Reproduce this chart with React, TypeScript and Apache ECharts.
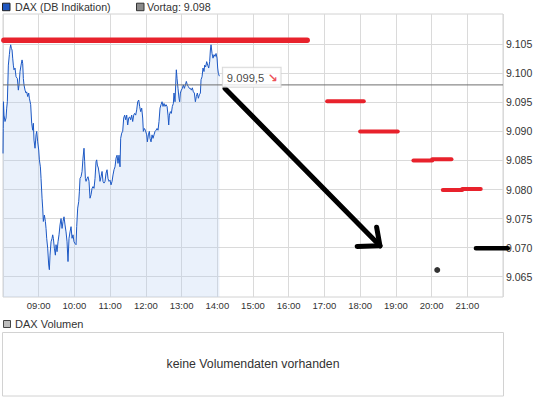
import React, { useEffect, useRef } from "react";
import * as echarts from "echarts";

// ---- data (time in minutes since midnight, price in index points) ----
const priceTimes = [
  480.0, 480.4, 480.8, 481.7, 483.4, 485.1, 486.2, 487.3, 489.0, 490.7, 491.8, 492.9, 494.0, 495.2, 496.3, 497.4,
  498.5, 500.2, 501.9, 504.1, 505.8, 506.9, 508.6, 510.3, 512.0, 513.1, 514.2, 515.3, 517.0, 518.7, 519.8, 521.5,
  523.2, 524.3, 526.5, 528.2, 529.9, 531.0, 532.1, 533.8, 535.5, 536.6, 538.3, 540.0, 541.1, 542.8, 543.9, 545.6,
  546.7, 547.8, 549.5, 551.2, 552.3, 553.4, 555.1, 556.8, 557.9, 559.0, 560.7, 562.4, 563.5, 564.6, 566.3, 568.0,
  569.1, 570.8, 572.4, 574.1, 575.8, 577.5, 579.2, 580.8, 582.5, 584.2, 585.9, 587.6, 589.2, 590.9, 592.6, 594.3,
  596.0, 597.6, 599.3, 601.0, 602.7, 603.8, 605.5, 607.2, 608.3, 609.4, 611.1, 612.8, 614.4, 616.1, 617.2, 618.4,
  619.5, 621.2, 622.8, 624.5, 626.2, 627.9, 629.6, 631.2, 632.9, 634.6, 636.3, 637.4, 638.5, 640.2, 641.9, 643.0,
  644.7, 646.4, 648.0, 649.7, 651.4, 653.1, 654.8, 656.4, 658.1, 659.8, 661.5, 663.2, 664.8, 666.5, 668.2, 669.9,
  671.6, 673.2, 674.9, 676.6, 677.7, 679.4, 681.1, 682.8, 684.4, 686.1, 687.8, 689.5, 691.2, 692.8, 694.5, 696.2,
  697.9, 699.6, 701.2, 702.9, 704.6, 706.3, 708.0, 709.6, 711.3, 713.0, 714.7, 715.8, 717.5, 719.2, 721.4, 722.5,
  724.2, 725.9, 727.0, 728.7, 730.4, 732.0, 733.7, 735.4, 737.1, 738.8, 740.4, 742.1, 743.8, 745.5, 747.2, 748.8,
  750.5, 752.2, 753.9, 755.6, 757.2, 758.4, 759.5, 761.2, 762.8, 764.5, 766.2, 767.3, 769.0, 770.1, 771.2, 772.4,
  774.0, 775.7, 776.8, 778.0, 779.6, 781.3, 783.0, 784.7, 786.4, 788.0, 789.7, 791.4, 793.1, 794.8, 796.4, 798.1,
  799.8, 801.5, 803.2, 804.8, 806.5, 808.2, 809.9, 811.6, 812.7, 814.4, 816.0, 817.7, 818.8, 820.5, 822.2, 823.9,
  825.6, 827.2, 828.4, 829.5, 831.2, 832.8, 834.5, 836.2, 837.9, 839.6, 840.7, 841.8, 843.5,
];
const priceValues = [
  9086.2, 9090.5, 9095.1, 9092.8, 9091.7, 9092.3, 9094.0, 9095.1, 9101.4, 9103.2, 9104.3, 9104.9, 9104.3, 9104.0, 9102.6, 9101.4,
  9100.6, 9100.9, 9099.4, 9099.1, 9097.1, 9098.0, 9100.3, 9101.4, 9102.3, 9101.7, 9099.1, 9098.0, 9097.1, 9096.6, 9096.8, 9096.0,
  9096.6, 9095.7, 9094.6, 9091.4, 9090.2, 9091.4, 9088.5, 9087.1, 9089.4, 9090.0, 9088.2, 9086.8, 9085.1, 9083.9, 9081.9, 9078.5,
  9076.8, 9074.5, 9075.6, 9074.5, 9073.3, 9071.6, 9069.9, 9067.0, 9066.2, 9068.7, 9071.0, 9071.6, 9072.2, 9071.6, 9069.9, 9068.7,
  9070.5, 9069.3, 9071.0, 9072.2, 9073.9, 9075.0, 9073.3, 9074.5, 9075.3, 9073.9, 9072.7, 9071.0, 9067.6, 9071.6, 9072.7, 9073.6,
  9071.6, 9072.2, 9071.0, 9070.7, 9070.5, 9073.6, 9076.8, 9077.9, 9079.6, 9081.9, 9082.2, 9083.1, 9085.4, 9087.1, 9084.8, 9081.9,
  9081.4, 9081.9, 9082.2, 9081.4, 9078.5, 9079.1, 9080.2, 9080.5, 9080.2, 9081.9, 9084.8, 9085.1, 9084.2, 9083.7, 9082.5, 9081.4,
  9082.2, 9083.1, 9081.4, 9081.1, 9081.4, 9082.8, 9083.4, 9081.9, 9081.4, 9081.6, 9080.8, 9081.4, 9082.5, 9083.4, 9083.9, 9085.4,
  9085.9, 9084.5, 9085.9, 9083.9, 9088.8, 9089.7, 9090.0, 9092.3, 9092.8, 9092.0, 9092.8, 9091.1, 9092.3, 9092.5, 9092.0, 9092.8,
  9091.7, 9092.8, 9093.1, 9092.8, 9093.7, 9095.1, 9095.4, 9094.3, 9093.4, 9094.0, 9092.3, 9090.0, 9090.5, 9090.2, 9089.4, 9088.2,
  9089.4, 9090.0, 9088.8, 9088.2, 9089.4, 9088.8, 9089.4, 9090.0, 9090.2, 9090.5, 9090.2, 9091.7, 9094.0, 9094.6, 9095.1, 9094.3,
  9094.8, 9094.3, 9094.6, 9094.3, 9092.8, 9091.1, 9092.8, 9093.4, 9093.1, 9094.3, 9094.8, 9096.6, 9095.1, 9098.0, 9100.6, 9099.1,
  9097.4, 9095.7, 9095.1, 9096.6, 9097.1, 9097.4, 9098.0, 9097.4, 9098.0, 9098.6, 9098.0, 9097.7, 9097.4, 9097.4, 9097.1, 9097.5,
  9096.8, 9096.6, 9095.1, 9096.0, 9096.6, 9095.7, 9096.3, 9096.6, 9098.9, 9099.4, 9100.9, 9100.3, 9101.4, 9101.1, 9102.0, 9101.4,
  9100.9, 9102.0, 9104.0, 9104.9, 9103.4, 9102.6, 9103.2, 9102.9, 9103.4, 9102.6, 9100.9, 9100.0, 9099.5,
];
const previousClose = 9098;
const xAxisRange = [480, 1320]; // 08:00 - 22:00
const yLabelRange = [9065, 9105];
const yLabelStep = 5;
const yPlotRange = [9061.5, 9110.2];

// hand-drawn annotations: [startTime, endTime, level]
const topRedLine = [481.5, 991, 9105.7];
const redDashes = [
  [1024.6, 1086.1, 9095.2],
  [1080.0, 1143.2, 9090.0],
  [1169.5, 1201.1, 9085.0],
  [1201.1, 1233.4, 9085.2],
  [1218.9, 1251.5, 9079.9],
  [1251.5, 1282.6, 9080.1],
];
const arrowShaft = [
  [853.0, 9097.4],
  [1113.3, 9070.3],
];
const arrowHead = [
  [1075.0, 9070.2],
  [1113.3, 9070.3],
  [1107.7, 9073.5],
];
const blackRightLine = [1274.5, 1328.0, 9069.9];
const blackDot = [1209.5, 9066.15];

const FONT = "'Liberation Sans', Arial, sans-serif";

// plot geometry
const PLOT_LEFT = 3;
const PLOT_TOP = 14;
const PLOT_W = 500;
const PLOT_H = 283;
const OVER_W = 540; // overlay grid, wider so marks can run past the axis

const fmtDE = (v: number, decimals = 0) => {
  const fixed = v.toFixed(decimals);
  const [intPart, dec] = fixed.split(".");
  const withSep = intPart.replace(/\B(?=(\d{3})+(?!\d))/g, ".");
  return dec ? withSep + "," + dec : withSep;
};
const fmtTime = (m: number) =>
  String(Math.floor(m / 60)).padStart(2, "0") + ":" + String(Math.round(m % 60)).padStart(2, "0");

const seg = (name: string, data: number[][], color: string, width: number, extra: any = {}) => ({
  type: "line",
  name,
  data,
  xAxisIndex: 0,
  yAxisIndex: 0,
  showSymbol: false,
  symbol: "none",
  silent: true,
  lineStyle: { color, width, cap: "round", join: "round" },
  ...extra,
});

export default function App() {
  const ref = useRef<HTMLDivElement>(null);
  useEffect(() => {
    if (!ref.current) return;
    const chart = echarts.init(ref.current, undefined, { renderer: "svg" });
    const priceData = priceTimes.map((t, i) => [t, priceValues[i]]);
    const lastIdx = priceData.length - 1;
    const red = "#e8222c";
    const overXMax = xAxisRange[0] + ((xAxisRange[1] - xAxisRange[0]) * OVER_W) / PLOT_W;

    const series: any[] = [
      {
        type: "line",
        name: "DAX (DB Indikation)",
        data: priceData,
        xAxisIndex: 0,
        yAxisIndex: 0,
        showSymbol: false,
        symbol: "none",
        lineStyle: { color: "#1c58c4", width: 1 },
        areaStyle: { color: "rgba(178,204,242,0.4)", origin: "start" },
        z: 2,
      },
      seg("Vortag", [[xAxisRange[0], previousClose], [xAxisRange[1], previousClose]], "#6e6e6e", 1, {
        lineStyle: { color: "#6e6e6e", width: 1 },
      }),
      seg("top", [[topRedLine[0], topRedLine[2]], [topRedLine[1], topRedLine[2]]], red, 5.5, {
        xAxisIndex: 2,
        yAxisIndex: 2,
        z: 3,
      }),
      ...redDashes.map((d, i) => seg("dash" + i, [[d[0], d[2]], [d[1], d[2]]], red, 4, { z: 3 })),
      seg("arrowShaft", arrowShaft, "#000", 5, { z: 3 }),
      seg("arrowHead", arrowHead, "#000", 5, { z: 3 }),
      seg("rightLine", [[blackRightLine[0], blackRightLine[2]], [blackRightLine[1], blackRightLine[2]]], "#000", 4.5, {
        xAxisIndex: 2,
        yAxisIndex: 2,
        z: 4,
      }),
      {
        type: "scatter",
        name: "dot",
        data: [blackDot],
        symbolSize: 6,
        itemStyle: { color: "#000" },
        silent: true,
        z: 3,
      },
      {
        type: "scatter",
        name: "lastLabel",
        data: [priceData[lastIdx]],
        symbolSize: 1,
        itemStyle: { color: "rgba(0,0,0,0)" },
        silent: true,
        z: 5,
        label: {
          show: true,
          position: "right",
          distance: 3,
          offset: [0, 1],
          formatter: () => "{v|" + fmtDE(priceValues[lastIdx], 1) + "} {a|↘}",
          backgroundColor: "#fff",
          borderColor: "#d0d0d0",
          borderWidth: 1,
          padding: [4, 3, 3, 4],
          rich: {
            v: { fontFamily: FONT, fontSize: 11.2, color: "#111" },
            a: { fontFamily: "'DejaVu Sans', sans-serif", fontSize: 12, fontWeight: "bold", color: "#e8222c" },
          },
        },
      },
    ];

    const option: any = {
      animation: false,
      backgroundColor: "#fff",
      textStyle: { fontFamily: FONT },
      grid: [
        {
          left: PLOT_LEFT,
          top: PLOT_TOP,
          width: PLOT_W,
          height: PLOT_H,
          show: true,
          borderColor: "#d2d2d2",
          borderWidth: 1,
          backgroundColor: "transparent",
        },
        { left: PLOT_LEFT, top: 44.33, width: PLOT_W, height: 232.33, show: false },
        { left: PLOT_LEFT, top: PLOT_TOP, width: OVER_W, height: PLOT_H, show: false },
      ],
      xAxis: [
        {
          type: "value",
          gridIndex: 0,
          min: xAxisRange[0],
          max: xAxisRange[1],
          interval: 60,
          axisLine: { show: false },
          axisTick: { show: false },
          splitLine: { show: true, lineStyle: { color: "#dadada", width: 1 } },
          axisLabel: {
            show: true,
            showMinLabel: false,
            showMaxLabel: false,
            margin: 3,
            fontSize: 9.5,
            color: "#333",
            fontFamily: FONT,
            formatter: (v: number) => fmtTime(v),
          },
        },
        { type: "value", gridIndex: 1, min: 0, max: 1, show: false },
        { type: "value", gridIndex: 2, min: xAxisRange[0], max: overXMax, show: false },
      ],
      yAxis: [
        {
          type: "value",
          gridIndex: 0,
          min: yPlotRange[0],
          max: yPlotRange[1],
          show: false,
          splitLine: { show: false },
        },
        {
          type: "value",
          gridIndex: 1,
          position: "right",
          min: yLabelRange[0],
          max: yLabelRange[1],
          interval: yLabelStep,
          axisLine: { show: false },
          axisTick: { show: false },
          splitLine: { show: true, lineStyle: { color: "#dadada", width: 1 } },
          axisLabel: {
            margin: 3,
            fontSize: 10.5,
            color: "#333",
            fontFamily: FONT,
            formatter: (v: number) => fmtDE(v),
          },
        },
        {
          type: "value",
          gridIndex: 2,
          min: yPlotRange[0],
          max: yPlotRange[1],
          show: false,
          splitLine: { show: false },
        },
      ],
      graphic: [
        // top legend
        { type: "rect", shape: { x: 2.5, y: 3.2, width: 7.5, height: 7.5 }, style: { fill: "#1f56c0", stroke: "#222", lineWidth: 1 } },
        {
          type: "text",
          x: 15,
          y: 7,
          style: { text: "DAX (DB Indikation)", fontFamily: FONT, fontSize: 10.7, fill: "#333", verticalAlign: "middle" },
        },
        { type: "rect", shape: { x: 136.5, y: 3.2, width: 7.5, height: 7.5 }, style: { fill: "#8a8a8a", stroke: "#333", lineWidth: 1 } },
        {
          type: "text",
          x: 147,
          y: 7,
          style: { text: "Vortag: " + fmtDE(previousClose), fontFamily: FONT, fontSize: 10.7, fill: "#333", verticalAlign: "middle" },
        },
        // volume panel
        { type: "rect", shape: { x: 3.5, y: 320.5, width: 7, height: 7 }, style: { fill: "#bdbdbd", stroke: "#444", lineWidth: 1 } },
        {
          type: "text",
          x: 15,
          y: 324,
          style: { text: "DAX Volumen", fontFamily: FONT, fontSize: 11, fill: "#333", verticalAlign: "middle" },
        },
        {
          type: "rect",
          shape: { x: 2.5, y: 332.5, width: 501, height: 63.5 },
          style: { fill: "#fff", stroke: "#d2d2d2", lineWidth: 1 },
        },
        {
          type: "text",
          x: 253,
          y: 364,
          style: {
            text: "keine Volumendaten vorhanden",
            fontFamily: FONT,
            fontSize: 12.3,
            fill: "#333",
            align: "center",
            verticalAlign: "middle",
          },
        },
      ],
      series,
    };
    chart.setOption(option);
    return () => chart.dispose();
  }, []);
  return <div ref={ref} style={{ position: "fixed", left: 0, top: 0, width: 545, height: 401, background: "#fff" }} />;
}
